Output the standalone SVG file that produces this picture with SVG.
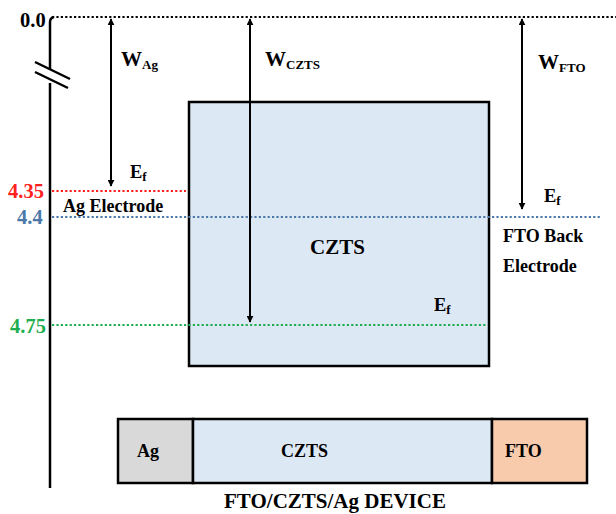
<svg xmlns="http://www.w3.org/2000/svg" width="616" height="514" viewBox="0 0 616 514">
<defs>
<marker id="ah" viewBox="0 0 10 10" refX="9" refY="5" markerWidth="7" markerHeight="7" markerUnits="userSpaceOnUse" orient="auto-start-reverse">
<path d="M0,0 L10,5 L0,10 z" fill="#000"/>
</marker>
</defs>
<style>
text{font-family:"Liberation Serif","Times New Roman",serif;font-weight:bold;fill:#000}
.lbl{font-size:18px}
.num{font-size:20.5px}
.w{font-size:21px}
.ef{font-size:18.5px}
.sub{font-size:13px}
.dot{fill:none;stroke-width:2.2;stroke-dasharray:2.2 2.2}
.arr{stroke:#000;stroke-width:2;fill:none;marker-start:url(#ah);marker-end:url(#ah)}
.box{stroke:#000;stroke-width:2.5}
</style>
<rect width="616" height="514" fill="#fff"/>
<g id="axis">
<path d="M50,488 L50,83 M50,69 L50,22 Q50,18 54,17" stroke="#000" stroke-width="2.5" fill="none"/>
<path d="M35,62 L70,79 M35,72 L68,88" stroke="#000" stroke-width="2.5"/>
<text x="20" y="27" class="num">0.0</text>
<text x="8" y="198" class="num" style="fill:#ff2020">4.35</text>
<text x="17" y="224" class="num" style="fill:#4a78a8">4.4</text>
<text x="10" y="333" class="num" style="fill:#1fae4f">4.75</text>
</g>
<g id="czts-box">
<rect x="189" y="102" width="300" height="264" fill="#dde8f5" class="box"/>
<text x="310" y="254" style="font-size:21px">CZTS</text>
</g>
<g id="levels">
<line x1="52" y1="17" x2="616" y2="17" class="dot" stroke="#000"/>
<line x1="52" y1="191" x2="186" y2="191" class="dot" stroke="#ff2020"/>
<line x1="52" y1="217" x2="600" y2="217" class="dot" stroke="#4a78a8"/>
<line x1="52" y1="325" x2="486" y2="325" class="dot" stroke="#1fae4f"/>
</g>
<g id="connectors">
<line x1="111" y1="19" x2="111" y2="186" class="arr"/>
<line x1="250" y1="19" x2="250" y2="322" class="arr"/>
<line x1="522" y1="19" x2="522" y2="209" class="arr"/>
</g>
<g id="labels">
<text x="121" y="66" class="w">W<tspan class="sub" dy="3">Ag</tspan></text>
<text x="265" y="66" class="w">W<tspan class="sub" dy="3">CZTS</tspan></text>
<text x="538" y="69" class="w">W<tspan class="sub" dy="3">FTO</tspan></text>
<text x="130" y="178" class="ef">E<tspan class="sub" dy="3">f</tspan></text>
<text x="434" y="311" class="ef">E<tspan class="sub" dy="3">f</tspan></text>
<text x="544" y="202" class="ef">E<tspan class="sub" dy="3">f</tspan></text>
<text x="63" y="212" class="lbl">Ag Electrode</text>
<text x="503" y="242" class="lbl">FTO Back</text>
<text x="503" y="272" class="lbl">Electrode</text>
</g>
<g id="device">
<rect x="118" y="419" width="75" height="64" fill="#d9d9d9" class="box"/>
<rect x="193" y="419" width="299" height="64" fill="#dde8f5" class="box"/>
<rect x="492" y="419" width="95" height="64" fill="#f8cbad" class="box"/>
<text x="137" y="457" class="lbl">Ag</text>
<text x="281" y="457" class="lbl">CZTS</text>
<text x="505" y="457" class="lbl">FTO</text>
<text x="335" y="508" style="font-size:21px" text-anchor="middle">FTO/CZTS/Ag DEVICE</text>
</g>
</svg>
